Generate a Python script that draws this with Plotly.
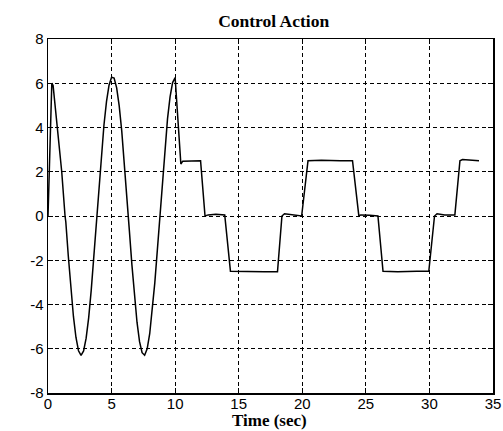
import plotly.graph_objects as go

# Time (s) and control action values
time_s = [0.0, 0.3, 0.4, 0.73, 1.08, 1.34,
          1.4, 1.6, 1.8, 2.0, 2.2, 2.4, 2.6, 2.8, 3.0, 3.2, 3.4, 3.6, 3.8,
          4.0, 4.2, 4.4, 4.6, 4.8, 5.0, 5.2, 5.4, 5.6, 5.8, 6.0, 6.2, 6.4,
          6.6, 6.8, 7.0, 7.2, 7.4, 7.6, 7.8, 8.0, 8.2, 8.4, 8.6, 8.8, 9.0,
          9.2, 9.4, 9.6, 9.8, 10.0,
          10.45, 10.6, 11.3, 12.0, 12.35, 12.6, 13.2, 13.9, 14.35,
          15.5, 17.0, 18.05, 18.4, 18.6, 19.3, 19.95, 20.45, 21.5, 23.0, 23.95,
          24.45, 24.6, 25.3, 25.95, 26.35, 27.5, 29.0, 29.95,
          30.4, 30.6, 31.2, 32.0, 32.4, 32.6, 33.9]
control = [0.0, 6.0, 5.9, 4.0, 2.0, 0.0,
           -0.26, -1.83, -3.29, -4.54, -5.49, -6.09, -6.30, -6.10, -5.52, -4.59, -3.35, -1.91, -0.34,
           1.25, 2.76, 4.10, 5.17, 5.91, 6.27, 6.23, 5.79, 4.98, 3.85, 2.47, 0.93, -0.66,
           -2.21, -3.63, -4.80, -5.68, -6.18, -6.29, -6.00, -5.32, -4.30, -3.02, -1.54, 0.06, 1.65,
           3.12, 4.39, 5.38, 6.03, 6.25,
           2.35, 2.48, 2.5, 2.5, 0.0, 0.05, 0.08, 0.05, -2.5,
           -2.52, -2.52, -2.52, 0.0, 0.1, 0.05, 0.0, 2.5, 2.52, 2.5, 2.5,
           0.0, 0.05, 0.03, 0.0, -2.5, -2.52, -2.5, -2.5,
           0.0, 0.1, 0.05, 0.05, 2.5, 2.55, 2.5]

x_ticks = [0, 5, 10, 15, 20, 25, 30, 35]
y_ticks = [-8, -6, -4, -2, 0, 2, 4, 6, 8]

fig = go.Figure()
fig.add_trace(go.Scatter(x=time_s, y=control, mode="lines",
                         line=dict(color="black", width=1.5),
                         showlegend=False, hoverinfo="skip"))

axis_common = dict(
    showline=True, linecolor="black", linewidth=1.5, mirror="ticks",
    ticks="inside", ticklen=5, tickcolor="black",
    showgrid=True, gridcolor="black", gridwidth=1, griddash="4px,3px",
    zeroline=False, automargin=False,
    tickfont=dict(family="Liberation Sans, Arial", size=15, color="black"),
)

fig.update_xaxes(range=[0, 35], tickvals=x_ticks, ticktext=[str(v) for v in x_ticks],
                 ticklabelstandoff=-4, **axis_common)
fig.update_yaxes(range=[-8, 8], tickvals=y_ticks, ticktext=[str(v) for v in y_ticks], **axis_common)

fig.update_layout(
    width=503, height=431,
    margin=dict(l=48, r=10, t=39, b=38),
    paper_bgcolor="white", plot_bgcolor="white",
    title=dict(text="<b>Control Action</b>", x=0.544, xanchor="center",
               y=1 - 21 / 431, yanchor="middle", yref="container",
               font=dict(family="Liberation Serif, Times New Roman", size=17.5, color="black")),
    annotations=[dict(text="<b>Time (sec)</b>", xref="paper", yref="paper",
                      x=0.497, y=0, yshift=-27, xanchor="center", yanchor="middle",
                      showarrow=False,
                      font=dict(family="Liberation Serif, Times New Roman", size=17, color="black"))],
)

fig.write_html(
    "out.html",
    config={"displayModeBar": False, "staticPlot": True},
    post_script="document.body.style.margin='0';document.body.style.overflow='hidden';",
)
